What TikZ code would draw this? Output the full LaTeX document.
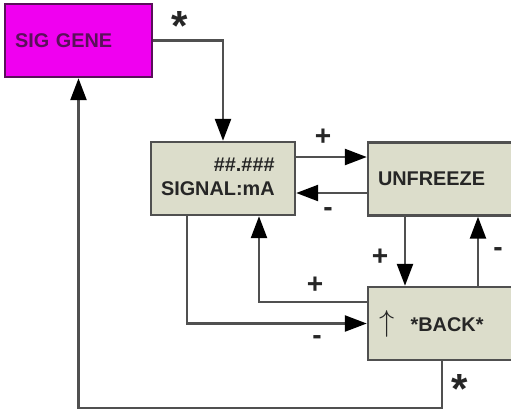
\documentclass[tikz,border=0pt]{standalone}
\usepackage{fontspec}
\setmainfont{Liberation Sans}
\usetikzlibrary{arrows.meta}
\definecolor{genefill}{HTML}{F000F0}
\definecolor{genetext}{HTML}{5A105A}
\definecolor{panefill}{HTML}{DCDDCB}
\definecolor{wire}{HTML}{505050}
\begin{document}
\begin{tikzpicture}[
    x=0.02cm,
    y=-0.02cm,
    font=\bfseries\fontsize{11.3}{13.8}\selectfont,
    caja/.style={draw=wire,line width=1.4pt,fill=panefill,minimum height=1.46cm,
        inner xsep=0.2cm,align=left,text=black!85,
        font=\bfseries\fontsize{11.3}{13.8}\selectfont},
    enlace/.style={wire,line width=1.4pt,-{Triangle[length=0.44cm,width=0.32cm,color=black]}},
    signo/.style={font=\bfseries\fontsize{16}{16}\selectfont,text=black!85},
    estrella/.style={font=\bfseries\fontsize{24}{24}\selectfont,text=black!85}
]
    \useasboundingbox (0,0) rectangle (511,414);
    % Cajas
    \node[caja,fill=genefill,draw=genetext,text=genetext,minimum width=2.94cm,
        text width=2.54cm] (gene) at (78.5,40.5) {SIG GENE};
    \node[caja,minimum width=2.88cm,text width=2.48cm,inner xsep=0.18cm] (disp) at (223,178.5)
        {\begin{tabular}{@{}r@{}}\#\#.\#\#\#\\SIGNAL:mA\end{tabular}};
    \node[caja,minimum width=2.96cm,text width=2.56cm] (frz) at (442,179) {UNFREEZE};
    \node[caja,minimum width=2.96cm,text width=2.52cm,inner xsep=0.22cm] (back) at (442,323.5)
        {{\normalfont\fontsize{16}{16}\selectfont$\uparrow$}\hspace{0.33cm}*BACK*};

    % Puntos de paso
    \coordinate (c1) at (0,157);
    \coordinate (c2) at (0,193);
    \coordinate (c3) at (405,0);
    \coordinate (c4) at (478,0);
    \coordinate (c5) at (259,302);
    \coordinate (c6) at (187,323.5);
    \coordinate (c7) at (0,408);

    % Enlaces
    \draw[enlace] (gene.east) -| (disp.north);
    \draw[enlace] (disp.east |- c1) -- (frz.west |- c1);
    \draw[enlace] (frz.west |- c2) -- (disp.east |- c2);
    \draw[enlace] (frz.south -| c3) -- (back.north -| c3);
    \draw[enlace] (back.north -| c4) -- (frz.south -| c4);
    \draw[enlace] (back.west |- c5) -| (disp.south -| c5);
    \draw[enlace] (disp.south -| c6) |- (back.west);
    \draw[enlace] (back.south) |- (gene.south |- c7) -- (gene.south);

    % Signos
    \node[estrella] (s1) at (180,26) {*};
    \node[signo] (p1) at (323,137) {+};
    \node[signo] (m1) at (328,212) {-};
    \node[signo] (p2) at (380,257) {+};
    \node[signo] (m2) at (498,252) {-};
    \node[signo] (p3) at (315,285) {+};
    \node[signo] (m3) at (317,340) {-};
    \node[estrella] (s2) at (460,389) {*};
\end{tikzpicture}
\end{document}
